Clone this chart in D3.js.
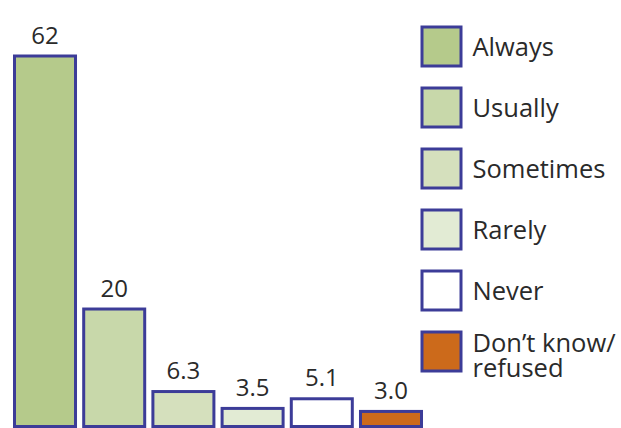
<!DOCTYPE html>
<html>
<head>
<meta charset="utf-8">
<script src="https://cdn.jsdelivr.net/npm/d3@7"></script>
<style>
  html, body { margin: 0; padding: 0; background: #fff; }
  svg { display: block; }
  text { font-family: "Open Sans", "Noto Sans", sans-serif; font-weight: 400; fill: #2a2a2a; }
</style>
</head>
<body>
<svg id="chart" width="621" height="428"></svg>
<script>
// Response categories, their shares (%) and fills
const categories = ["Always", "Usually", "Sometimes", "Rarely", "Never", "Don't know/refused"];
const values = [62, 20, 6.3, 3.5, 5.1, 3.0];
const valueLabels = ["62", "20", "6.3", "3.5", "5.1", "3.0"];
const legendLines = [["Always"], ["Usually"], ["Sometimes"], ["Rarely"], ["Never"], ["Don\u2019t know/", "refused"]];
const fills = ["#b5ca8b", "#c8d8aa", "#d5e0bd", "#e2ebd4", "#ffffff", "#cc6a1b"];
const strokeColor = "#3c3c98";
const sw = 3;

const svg = d3.select("#chart");

const x = d3.scaleBand()
  .domain(categories)
  .range([13, 423])
  .paddingInner(0.075)
  .paddingOuter(0);

const y = d3.scaleLinear()
  .domain([0, 62])
  .range([428, 54.5]);

const color = d3.scaleOrdinal().domain(categories).range(fills);

const data = categories.map((c, i) => ({ c, v: values[i], label: valueLabels[i] }));

// Bars (stroke kept inside the band)
svg.append("g").selectAll("rect")
  .data(data)
  .join("rect")
  .attr("x", d => x(d.c) + sw / 2)
  .attr("width", x.bandwidth() - sw)
  .attr("y", d => y(d.v) + sw / 2)
  .attr("height", d => y(0) - y(d.v) - sw)
  .attr("fill", d => color(d.c))
  .attr("stroke", strokeColor)
  .attr("stroke-width", sw);

// Value labels above bars
svg.append("g").selectAll("text")
  .data(data)
  .join("text")
  .attr("x", d => x(d.c) + x.bandwidth() / 2)
  .attr("y", d => y(d.v) - 11)
  .attr("text-anchor", "middle")
  .attr("font-size", 24)
  .text(d => d.label);

// Legend
const legY = d3.scalePoint().domain(categories).range([25.5, 330.5]);
const box = 42;
const leg = svg.append("g").selectAll("g")
  .data(data)
  .join("g")
  .attr("transform", d => `translate(420.5,${legY(d.c)})`);

leg.append("rect")
  .attr("x", sw / 2)
  .attr("y", sw / 2)
  .attr("width", box - sw)
  .attr("height", box - sw)
  .attr("fill", d => color(d.c))
  .attr("stroke", strokeColor)
  .attr("stroke-width", sw);

leg.each(function(d, i) {
  const lines = legendLines[i];
  const first = lines.length > 1 ? 21.5 : 30;
  const g = d3.select(this);
  lines.forEach((ln, j) => {
    g.append("text")
      .attr("x", 52)
      .attr("y", first + j * 24.5)
      .attr("font-size", 25.5)
      .text(ln);
  });
});
</script>
</body>
</html>
